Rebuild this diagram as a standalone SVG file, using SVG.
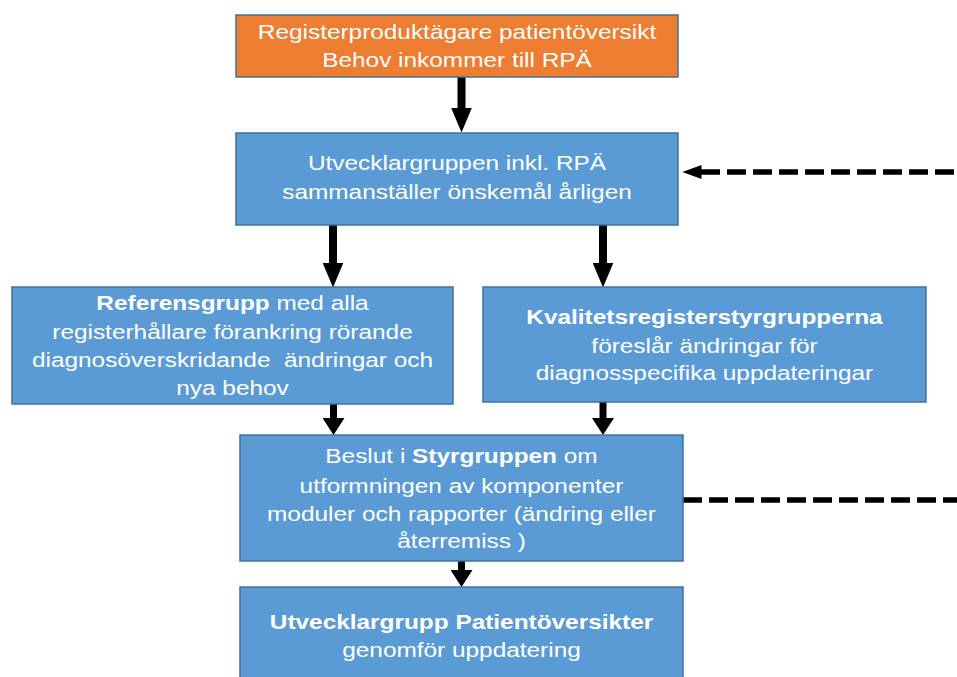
<svg xmlns="http://www.w3.org/2000/svg" width="957" height="677" viewBox="0 0 957 677">
<style>
.box{fill:#5B9BD5;stroke:#41719C;stroke-width:1.5}
.org{fill:#ED7D31;stroke:#41719C;stroke-width:1.5}
.t{font-family:"Liberation Sans",Arial,sans-serif;font-size:20.5px;fill:#FFFFFF;text-anchor:middle;white-space:pre}
.b{font-weight:bold}
.arr{stroke:#000;stroke-width:8;fill:none}
.arrs{stroke:#000;stroke-width:7;fill:none}
.dash{stroke:#000;stroke-width:5.5;fill:none;stroke-dasharray:19 7}
</style>
<defs>
<marker id="big" markerUnits="userSpaceOnUse" viewBox="0 0 25 21" markerWidth="25" markerHeight="21" refX="0.5" refY="10.5" orient="auto"><path d="M0,0 L25,10.5 L0,21 z" fill="#000"/></marker>
<marker id="small" markerUnits="userSpaceOnUse" viewBox="0 0 17 22" markerWidth="17" markerHeight="22" refX="0.5" refY="11" orient="auto"><path d="M0,0 L17,11 L0,22 z" fill="#000"/></marker>
<marker id="dh" markerUnits="userSpaceOnUse" viewBox="0 0 19 14" markerWidth="19" markerHeight="14" refX="0.5" refY="7" orient="auto-start-reverse"><path d="M0,0 L19,7 L0,14 z" fill="#000"/></marker>
</defs>

<g id="connectors">
<line class="arr" x1="461.5" y1="77" x2="461.5" y2="108" marker-end="url(#big)"/>
<line class="arr" x1="333" y1="225" x2="333" y2="263" marker-end="url(#big)"/>
<line class="arr" x1="603" y1="225" x2="603" y2="263" marker-end="url(#big)"/>
<line class="arrs" x1="333.5" y1="404" x2="333.5" y2="418.5" marker-end="url(#small)"/>
<line class="arrs" x1="603" y1="402" x2="603" y2="418.5" marker-end="url(#small)"/>
<line class="arrs" x1="461.5" y1="561" x2="461.5" y2="570.5" marker-end="url(#small)"/>
<line class="dash" x1="701" y1="172" x2="960" y2="172" marker-start="url(#dh)"/>
<line class="dash" x1="683" y1="500" x2="960" y2="500"/>
</g>

<g id="n1">
<rect class="org" x="236" y="15" width="442" height="62"/>
<g transform="translate(457 0) scale(1.19 1)">
<text class="t" x="0" y="39">Registerproduktägare patientöversikt</text>
<text class="t" x="0" y="67">Behov inkommer till RPÄ</text>
</g>
</g>

<g id="n2">
<rect class="box" x="236" y="133" width="442" height="92"/>
<g transform="translate(457 0) scale(1.19 1)">
<text class="t" x="0" y="170">Utvecklargruppen inkl. RPÄ</text>
<text class="t" x="0" y="199">sammanställer önskemål årligen</text>
</g>
</g>

<g id="n3">
<rect class="box" x="12" y="287" width="441" height="117"/>
<g transform="translate(232.5 0) scale(1.19 1)">
<text class="t" x="0" y="310"><tspan class="b">Referensgrupp</tspan> med alla</text>
<text class="t" x="0" y="339">registerhållare förankring rörande</text>
<text class="t" x="0" y="367">diagnosöverskridande  ändringar och</text>
<text class="t" x="0" y="395">nya behov</text>
</g>
</g>

<g id="n4">
<rect class="box" x="483" y="287" width="443" height="115"/>
<g transform="translate(704.5 0) scale(1.19 1)">
<text class="t b" x="0" y="324">Kvalitetsregisterstyrgrupperna</text>
<text class="t" x="0" y="353">föreslår ändringar för</text>
<text class="t" x="0" y="380">diagnosspecifika uppdateringar</text>
</g>
</g>

<g id="n5">
<rect class="box" x="240" y="435" width="443" height="126"/>
<g transform="translate(461.5 0) scale(1.19 1)">
<text class="t" x="0" y="463">Beslut i <tspan class="b">Styrgruppen</tspan> om</text>
<text class="t" x="0" y="493">utformningen av komponenter</text>
<text class="t" x="0" y="521">moduler och rapporter (ändring eller</text>
<text class="t" x="0" y="548">återremiss )</text>
</g>
</g>

<g id="n6">
<rect class="box" x="240" y="587" width="443" height="120"/>
<g transform="translate(461.5 0) scale(1.19 1)">
<text class="t b" x="0" y="629">Utvecklargrupp Patientöversikter</text>
<text class="t" x="0" y="657">genomför uppdatering</text>
</g>
</g>
</svg>
